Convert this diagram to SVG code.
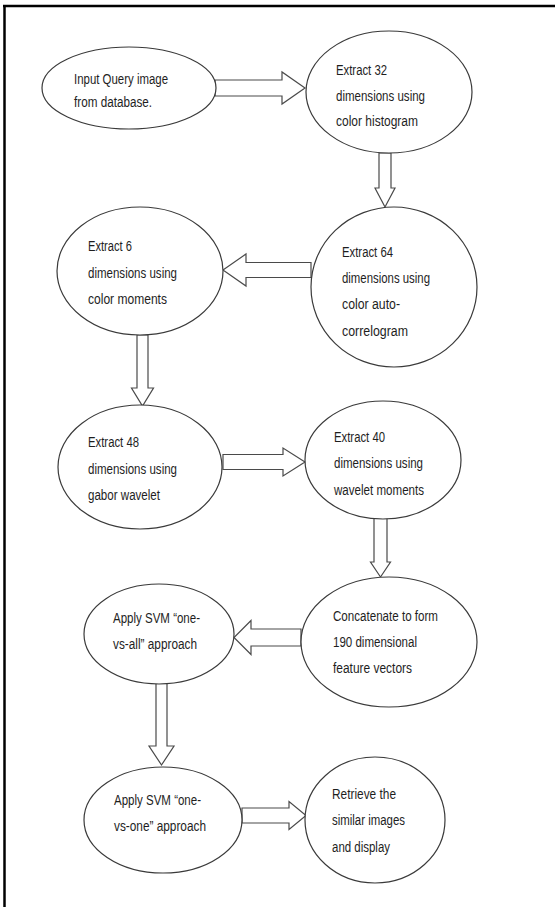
<svg xmlns="http://www.w3.org/2000/svg" width="555" height="907" viewBox="0 0 555 907">
<style>
.n{fill:#fff;stroke:#3a3a3a;stroke-width:1.2}
.a{fill:#fff;stroke:#4a4a4a;stroke-width:1.2;stroke-linejoin:miter}
text{font-family:"Liberation Sans",Arial,sans-serif;font-size:14px;fill:#1e1e1e}
</style>
<rect width="555" height="907" fill="#fff"/>
<g id="frame" stroke="#000" stroke-width="2.5" fill="none">
<line x1="3" y1="6" x2="555" y2="6"/>
<line x1="4.5" y1="5" x2="4.5" y2="907"/>
</g>
<g id="connectors">
<path class="a" d="M215,80 L282,80 L282,72 L305,88 L282,104 L282,96 L215,96 Z"/>
<path class="a" d="M379,153 L379,188 L375,188 L385,207 L395,188 L391,188 L391,153 Z"/>
<path class="a" d="M311,262.5 L246,262.5 L246,254 L223,270 L246,286 L246,277.5 L311,277.5 Z"/>
<path class="a" d="M137,335 L137,388 L131.5,388 L142.5,406 L153.5,388 L148,388 L148,335 Z"/>
<path class="a" d="M223,454.5 L283,454.5 L283,448 L305,462 L283,476 L283,469.5 L223,469.5 Z"/>
<path class="a" d="M374,518 L374,562 L370.5,562 L380.5,577 L390.5,562 L387,562 L387,518 Z"/>
<path class="a" d="M301,629 L251,629 L251,620.5 L234,637.5 L251,654.5 L251,646 L301,646 Z"/>
<path class="a" d="M156,683 L156,746 L149,746 L161.5,765 L174,746 L167,746 L167,683 Z"/>
<path class="a" d="M242,808 L289,808 L289,801.5 L306,815.5 L289,829.5 L289,823 L242,823 Z"/>
</g>
<g id="n1"><ellipse class="n" cx="129" cy="88" rx="87" ry="41"/>
<text x="74" y="84" textLength="94" lengthAdjust="spacingAndGlyphs">Input Query image</text>
<text x="74" y="107" textLength="78" lengthAdjust="spacingAndGlyphs">from database.</text></g>
<g id="n2"><ellipse class="n" cx="389" cy="92" rx="83" ry="61"/>
<text x="336" y="75" textLength="51" lengthAdjust="spacingAndGlyphs">Extract 32</text>
<text x="336" y="101" textLength="89" lengthAdjust="spacingAndGlyphs">dimensions using</text>
<text x="336" y="126" textLength="82" lengthAdjust="spacingAndGlyphs">color histogram</text></g>
<g id="n3"><ellipse class="n" cx="140" cy="271" rx="83" ry="64"/>
<text x="88" y="251" textLength="44" lengthAdjust="spacingAndGlyphs">Extract 6</text>
<text x="88" y="278" textLength="89" lengthAdjust="spacingAndGlyphs">dimensions using</text>
<text x="88" y="304" textLength="79" lengthAdjust="spacingAndGlyphs">color moments</text></g>
<g id="n4"><ellipse class="n" cx="394" cy="287" rx="83" ry="80"/>
<text x="342" y="257" textLength="51" lengthAdjust="spacingAndGlyphs">Extract 64</text>
<text x="342" y="283" textLength="88" lengthAdjust="spacingAndGlyphs">dimensions using</text>
<text x="342" y="309" textLength="58" lengthAdjust="spacingAndGlyphs">color auto-</text>
<text x="342" y="336" textLength="66" lengthAdjust="spacingAndGlyphs">correlogram</text></g>
<g id="n5"><ellipse class="n" cx="140" cy="467" rx="82" ry="62"/>
<text x="88" y="447" textLength="51" lengthAdjust="spacingAndGlyphs">Extract 48</text>
<text x="88" y="474" textLength="89" lengthAdjust="spacingAndGlyphs">dimensions using</text>
<text x="88" y="500" textLength="72" lengthAdjust="spacingAndGlyphs">gabor wavelet</text></g>
<g id="n6"><ellipse class="n" cx="383" cy="460" rx="78" ry="59"/>
<text x="334" y="442" textLength="51" lengthAdjust="spacingAndGlyphs">Extract 40</text>
<text x="334" y="468" textLength="89" lengthAdjust="spacingAndGlyphs">dimensions using</text>
<text x="334" y="495" textLength="90" lengthAdjust="spacingAndGlyphs">wavelet moments</text></g>
<g id="n7"><ellipse class="n" cx="389" cy="642" rx="88" ry="65"/>
<text x="333" y="621" textLength="105" lengthAdjust="spacingAndGlyphs">Concatenate to form</text>
<text x="333" y="647" textLength="84" lengthAdjust="spacingAndGlyphs">190 dimensional</text>
<text x="333" y="673" textLength="79" lengthAdjust="spacingAndGlyphs">feature vectors</text></g>
<g id="n8"><ellipse class="n" cx="159" cy="634" rx="75" ry="50"/>
<text x="113" y="623" textLength="87" lengthAdjust="spacingAndGlyphs">Apply SVM “one-</text>
<text x="113" y="649" textLength="84" lengthAdjust="spacingAndGlyphs">vs-all” approach</text></g>
<g id="n9"><ellipse class="n" cx="163" cy="820" rx="79" ry="53"/>
<text x="114" y="805" textLength="87" lengthAdjust="spacingAndGlyphs">Apply SVM “one-</text>
<text x="114" y="831" textLength="92" lengthAdjust="spacingAndGlyphs">vs-one” approach</text></g>
<g id="n10"><ellipse class="n" cx="375" cy="820" rx="70" ry="63"/>
<text x="332" y="799" textLength="64" lengthAdjust="spacingAndGlyphs">Retrieve the</text>
<text x="332" y="825" textLength="73" lengthAdjust="spacingAndGlyphs">similar images</text>
<text x="332" y="852" textLength="58" lengthAdjust="spacingAndGlyphs">and display</text></g>
</svg>
